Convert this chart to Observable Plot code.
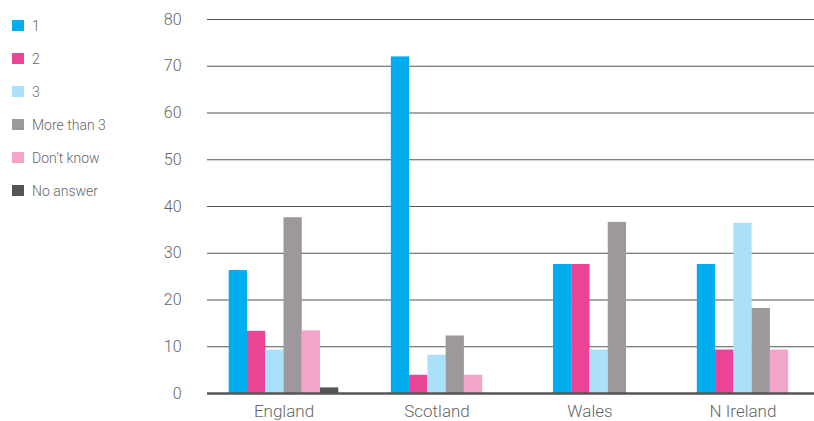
<!DOCTYPE html>
<html>
<head>
<meta charset="utf-8">
<script src="https://cdn.jsdelivr.net/npm/d3@7"></script>
<script src="https://cdn.jsdelivr.net/npm/@observablehq/plot@0.6"></script>
<style>
  body { margin: 0; background: #fff; }
  #wrap { position: relative; width: 814px; height: 421px; font-family: Roboto, "Liberation Sans", Arial, sans-serif; font-weight: 300; }
  #legend { position: absolute; left: 0; top: 0; }
  .item { position: absolute; left: 12px; height: 11px; display: flex; align-items: center; white-space: nowrap; }
  .sw { width: 12px; height: 11px; margin-right: 8px; }
  .lab { font-size: 14px; color: #666; line-height: 11px; position: relative; top: 1px; }
</style>
</head>
<body>
<div id="wrap"><div id="chart"></div><div id="legend"></div></div>
<script>
const groups = ["England", "Scotland", "Wales", "N Ireland"];
const series = ["1", "2", "3", "More than 3", "Don\u2019t know", "No answer"];
const colors = ["#00aeef", "#ea4494", "#abe0fa", "#9c989b", "#f2a5c9", "#545559"];
const england  = [26.3, 13.3, 9.3, 37.6, 13.4, 1.2];
const scotland = [72.0, 3.9, 8.2, 12.3, 3.9, 0];
const wales    = [27.6, 27.6, 9.3, 36.6, 0, 0];
const nireland = [27.6, 9.3, 36.4, 18.2, 9.3, 0];
const yTicks = [0, 10, 20, 30, 40, 50, 60, 70, 80];

const valuesByGroup = [england, scotland, wales, nireland];
const rows = [];
groups.forEach((g, gi) => {
  const present = series.map((s, si) => ({s, v: valuesByGroup[gi][si]})).filter(d => d.v > 0);
  const n = present.length;
  present.forEach((d, k) => {
    const off = k - (n - 1) / 2;
    rows.push({group: g, series: d.s, value: d.v, x1: off - 0.5, x2: off + 0.5});
  });
});

const halfBand = 153.5 / 2 / 18.33;
const chart = Plot.plot({
  width: 814,
  height: 421,
  marginLeft: 206,
  marginRight: -6,
  marginTop: 19,
  marginBottom: 28,
  style: {fontFamily: "Roboto, 'Liberation Sans', Arial, sans-serif", fontWeight: 300, color: "#666", overflow: "visible"},
  fx: {domain: groups, padding: 0, label: null},
  x: {domain: [-halfBand, halfBand], axis: null},
  y: {domain: [0, 80], label: null},
  color: {domain: series, range: colors},
  marks: [
    Plot.ruleY(yTicks.filter(t => t > 0), {stroke: "#555", strokeWidth: 1}),
    Plot.rectY(rows, {fx: "group", x1: "x1", x2: "x2", y: "value", fill: "series"}),
    Plot.ruleY([0], {stroke: "#555", strokeWidth: 2.5}),
    Plot.axisY({ticks: yTicks, tickSize: 0, tickPadding: 26, fontSize: 16, fill: "#666", label: null}),
    Plot.axisFx({anchor: "bottom", tickSize: 0, tickPadding: 11, fontSize: 17, fill: "#666", label: null})
  ]
});
document.getElementById("chart").appendChild(chart);

const legend = document.getElementById("legend");
series.forEach((s, i) => {
  const it = document.createElement("div");
  it.className = "item";
  it.style.top = (20 + i * 33) + "px";
  const sw = document.createElement("div");
  sw.className = "sw";
  sw.style.background = colors[i];
  const lab = document.createElement("span");
  lab.className = "lab";
  lab.textContent = s;
  it.appendChild(sw);
  it.appendChild(lab);
  legend.appendChild(it);
});
</script>
</body>
</html>
